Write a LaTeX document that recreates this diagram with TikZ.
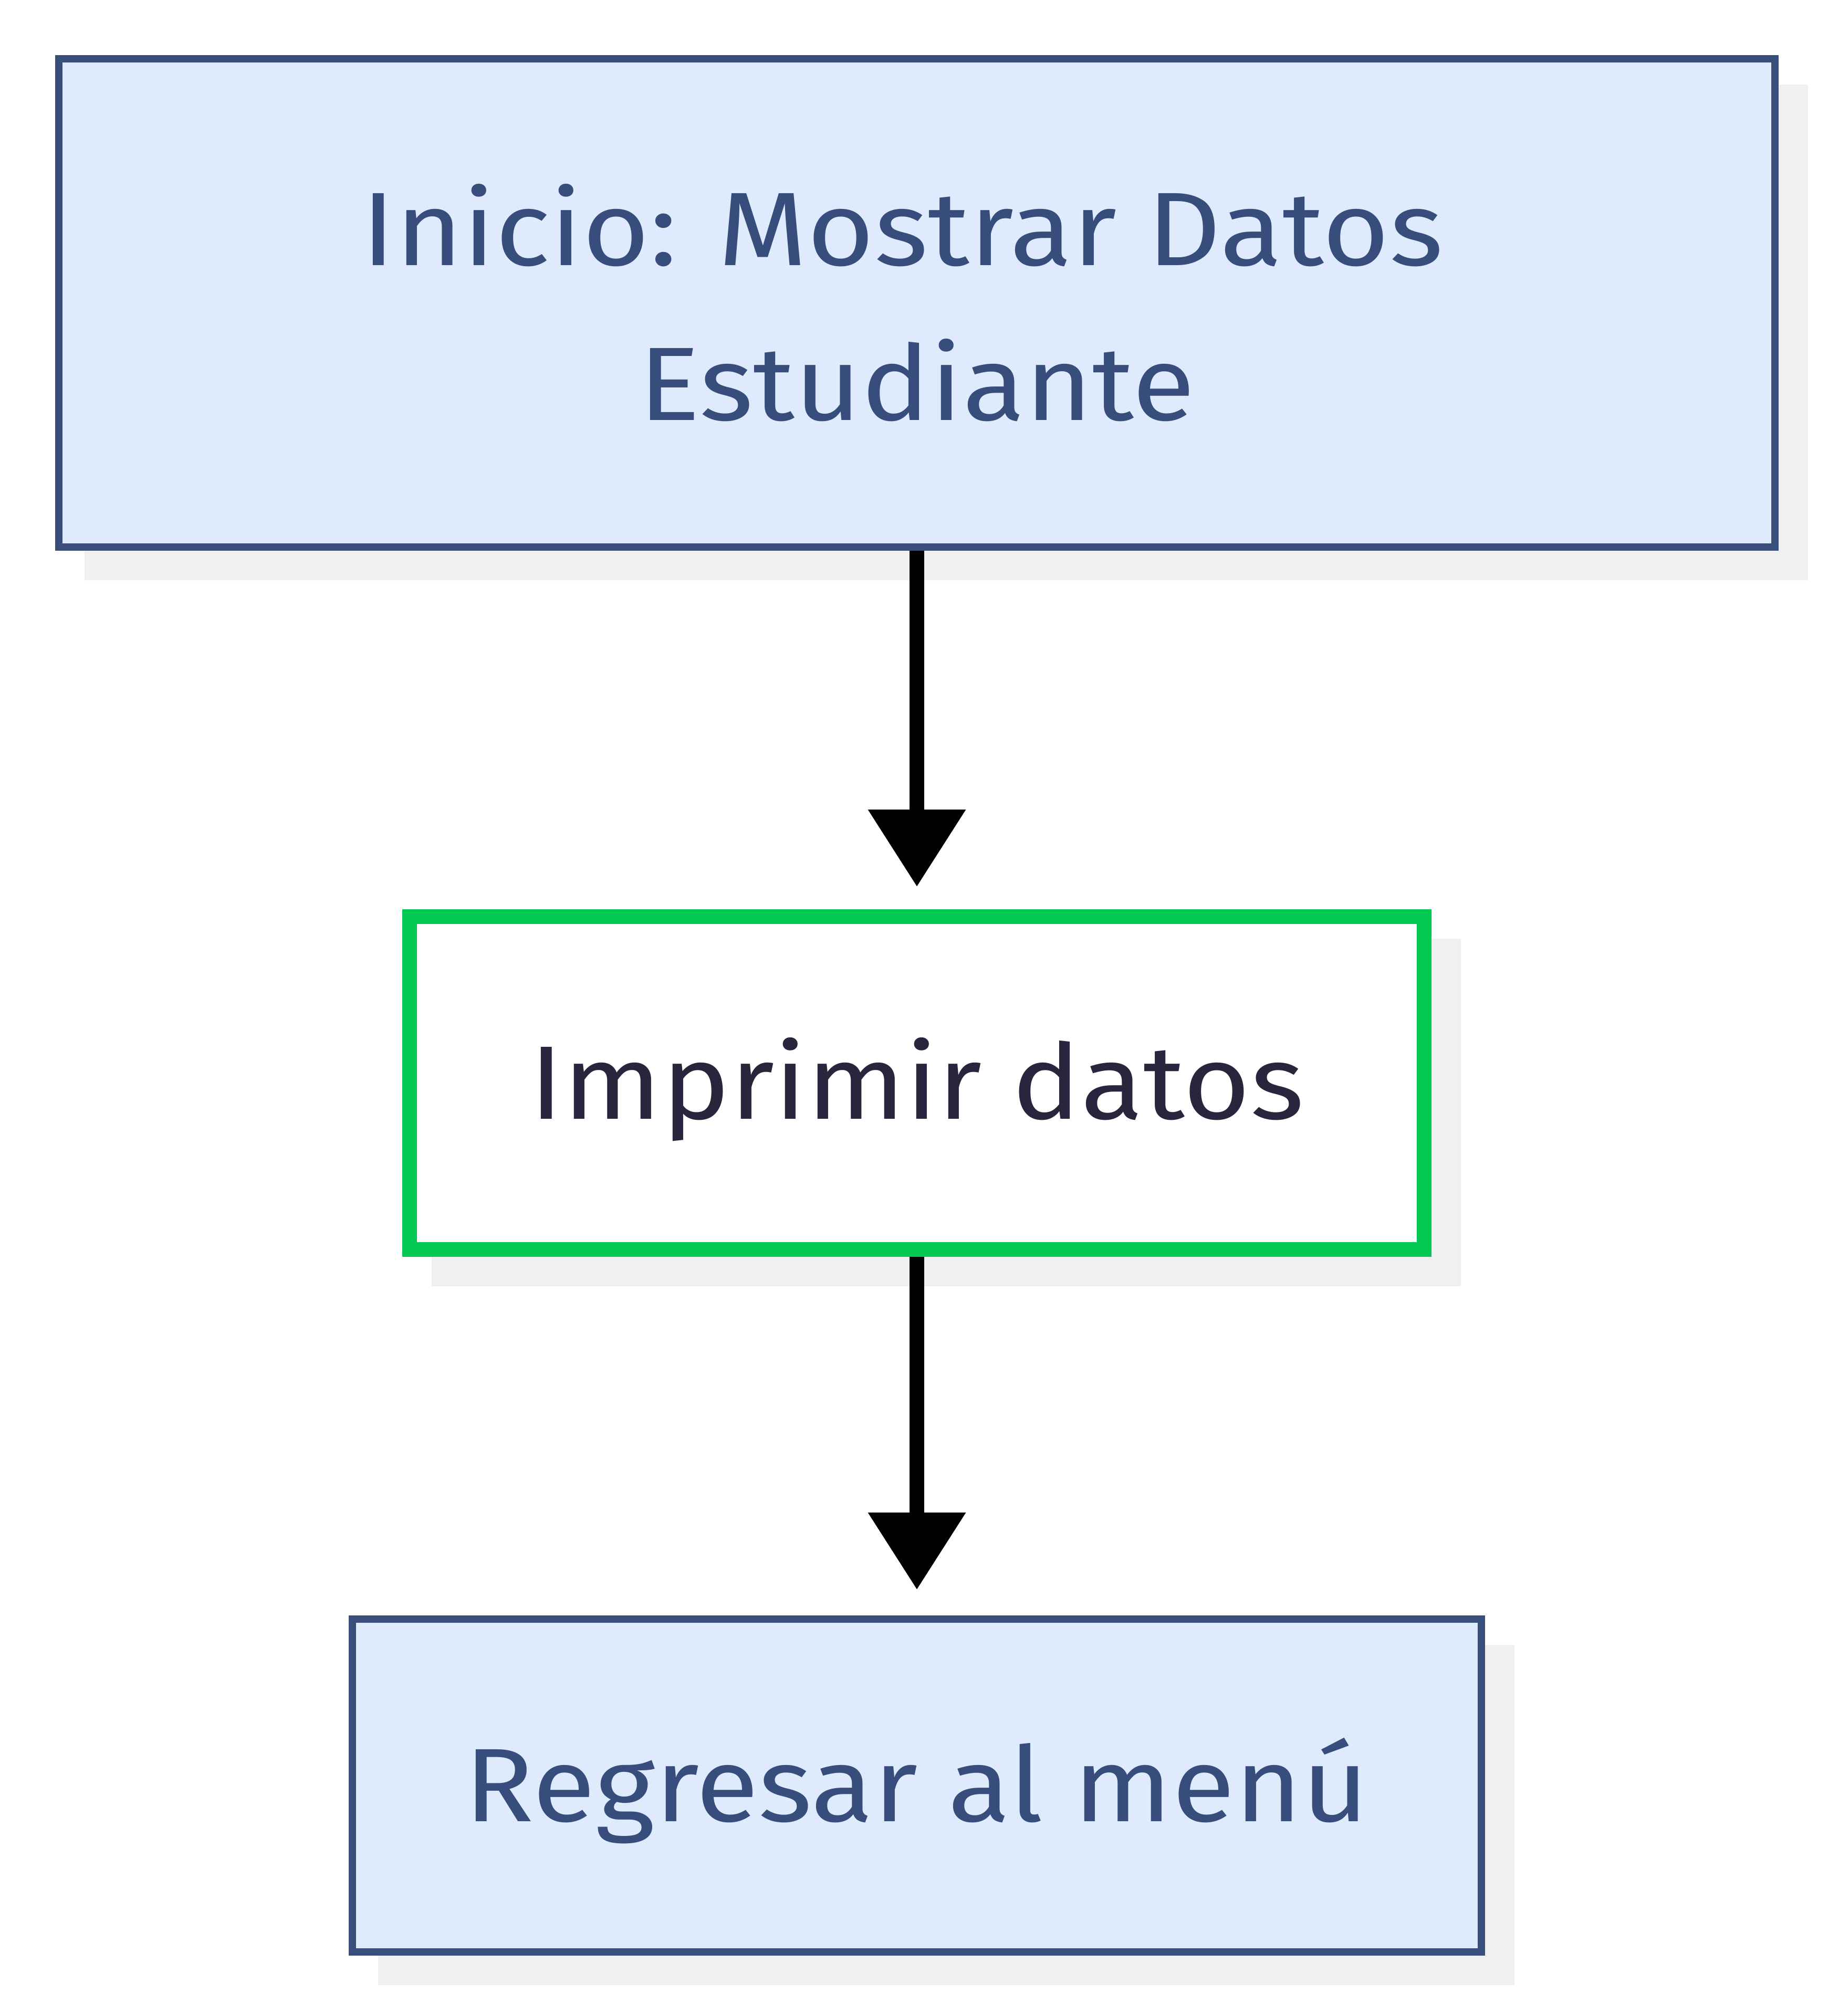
\documentclass[tikz,border=0pt]{standalone}
\usepackage{fontspec}
\setmainfont{Fira Sans}[FakeStretch=1.10]
\usetikzlibrary{arrows.meta,shadows}
\definecolor{boxfill}{HTML}{E0EAFD}
\definecolor{boxline}{HTML}{394E7A}
\definecolor{boxtext}{HTML}{374D7C}
\definecolor{stepgreen}{HTML}{00C853}
\definecolor{steptext}{HTML}{28253D}
\definecolor{shadowgray}{HTML}{F0F0F0}
\tikzset{
	flowfont/.style={font=\fontsize{56.6pt}{83.9pt}\selectfont},
	shadowbox/.style={drop shadow={shadow xshift=0.56cm, shadow yshift=-0.56cm,
		opacity=1, fill=shadowgray, draw=shadowgray, line width=#1}},
	bluebox/.style={flowfont, draw=boxline, fill=boxfill, text=boxtext,
		line width=0.14cm, inner sep=0pt, shadowbox=0.14cm},
	greenbox/.style={flowfont, draw=stepgreen, fill=white, text=steptext,
		line width=0.28cm, inner sep=0pt, shadowbox=0.28cm},
	oneline/.style={text height=1.37cm, text depth=0pt},
	flowarrow/.style={line width=0.28cm, -{Triangle[length=1.47cm, width=1.79cm]}}
}
\begin{document}
\begin{tikzpicture}
		\useasboundingbox (0,0) rectangle (35.01,-38.40);

		\node[bluebox, align=center, minimum width=32.68cm, minimum height=9.30cm]
			(inicio) at (17.46,-5.77) {Inicio: Mostrar Datos\hspace*{0.55cm}\\Estudiante};
		\node[greenbox, oneline, minimum width=19.32cm, minimum height=6.34cm]
			(imprimir) at (17.46,-20.63) {Imprimir datos};
		\node[bluebox, oneline, minimum width=21.50cm, minimum height=6.34cm]
			(regresar) at (17.46,-34.01) {Regresar al menú};

		\draw[flowarrow, shorten >=0.43cm] (inicio.south) -- (imprimir.north);
		\draw[flowarrow, shorten >=0.49cm] (imprimir.south) -- (regresar.north);
	\end{tikzpicture}
\end{document}
